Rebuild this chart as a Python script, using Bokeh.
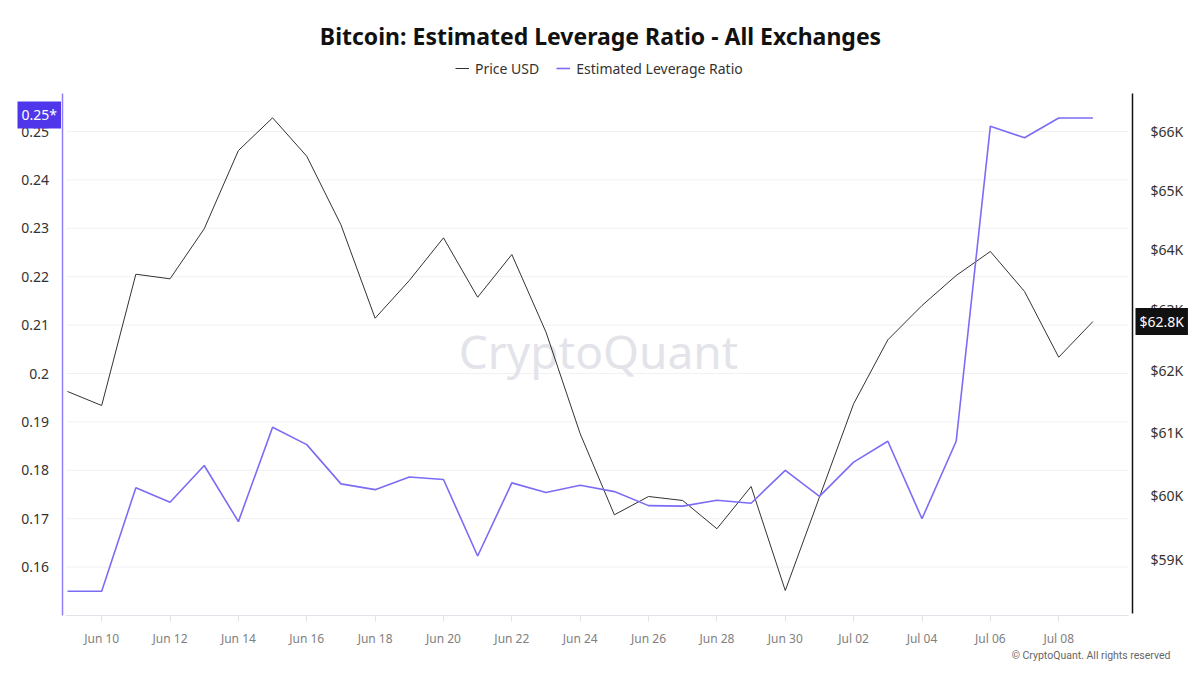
from datetime import datetime, timedelta
import math
from bokeh.plotting import figure
from bokeh.models import (Range1d, LogAxis, LogScale, FixedTicker, CustomJSTickFormatter,
                          DatetimeTickFormatter, Label, Legend, LegendItem, ColumnDataSource)
from bokeh.embed import file_html
from bokeh.resources import INLINE

# ---------------- data ----------------
dates = ["2024-06-09", "2024-06-10", "2024-06-11", "2024-06-12", "2024-06-13", "2024-06-14",
         "2024-06-15", "2024-06-16", "2024-06-17", "2024-06-18", "2024-06-19", "2024-06-20",
         "2024-06-21", "2024-06-22", "2024-06-23", "2024-06-24", "2024-06-25", "2024-06-26",
         "2024-06-27", "2024-06-28", "2024-06-29", "2024-06-30", "2024-07-01", "2024-07-02",
         "2024-07-03", "2024-07-04", "2024-07-05", "2024-07-06", "2024-07-07", "2024-07-08",
         "2024-07-09"]
leverage = [0.1550, 0.1550, 0.1764, 0.1734, 0.1810, 0.1694, 0.1889, 0.1853, 0.1772, 0.1760,
            0.1786, 0.1781, 0.1623, 0.1774, 0.1754, 0.1769, 0.1756, 0.1727, 0.1726, 0.1738,
            0.1732, 0.1800, 0.1746, 0.1817, 0.1860, 0.1700, 0.1860, 0.2511, 0.2487, 0.2528,
            0.2528]
price_usd = [61660, 61434, 63584, 63507, 64345, 65678, 66243, 65580, 64412, 62855,
             63479, 64193, 63202, 63913, 62625, 60981, 59700, 59987, 59924, 59482,
             60144, 58527, 59976, 61462, 62500, 63065, 63562, 63964, 63297, 62216,
             62800]
x_tick_dates = ["2024-06-10", "2024-06-12", "2024-06-14", "2024-06-16", "2024-06-18",
                "2024-06-20", "2024-06-22", "2024-06-24", "2024-06-26", "2024-06-28",
                "2024-06-30", "2024-07-02", "2024-07-04", "2024-07-06", "2024-07-08"]
leverage_ticks = [0.16, 0.17, 0.18, 0.19, 0.20, 0.21, 0.22, 0.23, 0.24, 0.25]
price_ticks = [59000, 60000, 61000, 62000, 63000, 64000, 65000, 66000]

title_text = "Bitcoin: Estimated Leverage Ratio - All Exchanges"
series_names = ["Price USD", "Estimated Leverage Ratio"]
FONT = "Noto Sans"
PURPLE = "#7b6cf6"

W, H = 1200, 675
EPOCH = datetime(1970, 1, 1)

# ---------- pixel <-> data layout helpers (layout only) ----------
D0 = datetime.strptime(dates[0], "%Y-%m-%d")
PX_D0, PX_PER_DAY = 67.0, 34.18


def x_at(px):
    return D0 + timedelta(days=(px - PX_D0) / PX_PER_DAY)


def ms(dt):
    return (dt - EPOCH).total_seconds() * 1000.0


def lev_at(py):
    return 0.25 - (py - 131.0) / 4840.0


def price_at(py):
    return 62000.0 * math.exp((370.0 - py) / 3817.0)


x_dt = [datetime.strptime(d, "%Y-%m-%d") for d in dates]
src = ColumnDataSource(dict(x=x_dt, lev=leverage, price=price_usd))
x_ticks_ms = [ms(datetime.strptime(d, "%Y-%m-%d")) for d in x_tick_dates]

p = figure(width=W, height=H, x_axis_type="datetime", output_backend="svg",
           toolbar_location=None, title=None,
           x_range=Range1d(x_at(0), x_at(W)),
           y_range=Range1d(lev_at(H), lev_at(0)),
           min_border=0, min_border_left=0, min_border_right=0,
           min_border_top=0, min_border_bottom=0)
p.outline_line_color = None
p.background_fill_color = "white"
p.border_fill_color = "white"

p.extra_y_ranges = {"price": Range1d(price_at(H), price_at(0))}
p.extra_y_scales = {"price": LogScale()}

X_LEFT, X_RIGHT, Y_TOP, Y_BOTTOM = 61.5, 1132.0, 93.0, 615.0

# grids (drawn as segments so they stop at the axes)
p.xgrid.visible = False
p.ygrid.visible = False
gsrc = ColumnDataSource(dict(y=leverage_ticks, x0=[x_at(66)] * len(leverage_ticks),
                             x1=[x_at(1128)] * len(leverage_ticks)))
p.segment(x0="x0", x1="x1", y0="y", y1="y", source=gsrc, line_color="#f1f1f4",
          line_width=1, level="underlay")

# left axis
ya = p.yaxis[0]
ya.fixed_location = ms(x_at(X_LEFT))
ya.bounds = (lev_at(Y_BOTTOM), lev_at(Y_TOP))
ya.ticker = FixedTicker(ticks=leverage_ticks)
ya.formatter = CustomJSTickFormatter(code="return parseFloat(tick.toFixed(2)).toString();")
ya.axis_line_color = "#8f80f5"
ya.axis_line_width = 1.5
ya.major_tick_line_color = None
ya.minor_tick_line_color = None
ya.major_label_text_font = FONT
ya.major_label_text_font_size = "14px"
ya.major_label_text_color = "#333333"
ya.major_label_standoff = 7

# right axis (log)
ra = LogAxis(y_range_name="price", ticker=FixedTicker(ticks=price_ticks),
             formatter=CustomJSTickFormatter(code="return '$' + (tick/1000).toFixed(0) + 'K';"))
ra.fixed_location = ms(x_at(X_RIGHT))
ra.bounds = (price_at(613), price_at(Y_TOP))
ra.axis_line_color = "#111111"
ra.axis_line_width = 1.5
ra.major_tick_line_color = None
ra.minor_tick_line_color = None
ra.major_label_text_font = FONT
ra.major_label_text_font_size = "14px"
ra.major_label_text_color = "#333333"
ra.major_label_standoff = 12
p.add_layout(ra, "right")

# x axis
xa = p.xaxis[0]
xa.fixed_location = lev_at(Y_BOTTOM)
xa.bounds = (ms(x_at(65)), ms(x_at(1128)))
xa.ticker = FixedTicker(ticks=x_ticks_ms)
xa.formatter = DatetimeTickFormatter(days="%b %d", months="%b %d", hours="%b %d",
                                     years="%b %d", hourmin="%b %d")
xa.axis_line_color = "#e2e2ea"
xa.major_tick_line_color = "#e2e2ea"
xa.major_tick_out = 6
xa.major_tick_in = 0
xa.minor_tick_line_color = None
xa.major_label_text_font = FONT
xa.major_label_text_font_size = "12px"
xa.major_label_text_color = "#808080"
xa.major_label_standoff = 8

# watermark
p.add_layout(Label(x=598, y=H - 350, x_units="screen", y_units="screen", text="CryptoQuant",
                   text_font=FONT, text_font_size="46px", text_color="#e3e3ea",
                   text_align="center", text_baseline="middle", level="underlay"))

r_price = p.line("x", "price", source=src, y_range_name="price", line_color="#333333",
                 line_width=1)
r_lev = p.line("x", "lev", source=src, line_color=PURPLE, line_width=1.6)

legend = Legend(items=[LegendItem(label=series_names[0], renderers=[r_price]),
                       LegendItem(label=series_names[1], renderers=[r_lev])],
                orientation="horizontal", location=(455, H - 78),
                padding=0, margin=0, spacing=17, glyph_width=14, glyph_height=20,
                label_standoff=6, border_line_alpha=0, background_fill_alpha=0,
                label_text_font=FONT, label_text_font_size="14px", label_text_color="#333333")
p.add_layout(legend, "center")

# title
p.add_layout(Label(x=600, y=H - 35, x_units="screen", y_units="screen", text=title_text,
                   text_font=FONT, text_font_size="23px", text_font_style="bold",
                   text_color="#111111", text_align="center", text_baseline="middle"))

# last value badges
p.add_layout(Label(x=17, y=leverage[-1], x_units="screen", y_units="data", y_offset=3,
                   text=f"{leverage[-1]:.2f}*", text_font=FONT, text_font_size="14px",
                   text_color="white", background_fill_color="#5036ea",
                   text_align="left", text_baseline="middle", padding=4))
p.add_layout(Label(x=1135, y=price_usd[-1], x_units="screen", y_units="data",
                   y_range_name="price",
                   text=f"${price_usd[-1]/1000:.1f}K", text_font=FONT, text_font_size="14px",
                   text_color="white", background_fill_color="#111111",
                   text_align="left", text_baseline="middle", padding=4))

# copyright
p.add_layout(Label(x=1170, y=H - 655, x_units="screen", y_units="screen",
                   text="\u00a9 CryptoQuant. All rights reserved", text_font="Roboto",
                   text_font_size="10.5px", text_color="#666666", text_align="right",
                   text_baseline="middle"))

open("out.html", "w").write(file_html(p, INLINE))
